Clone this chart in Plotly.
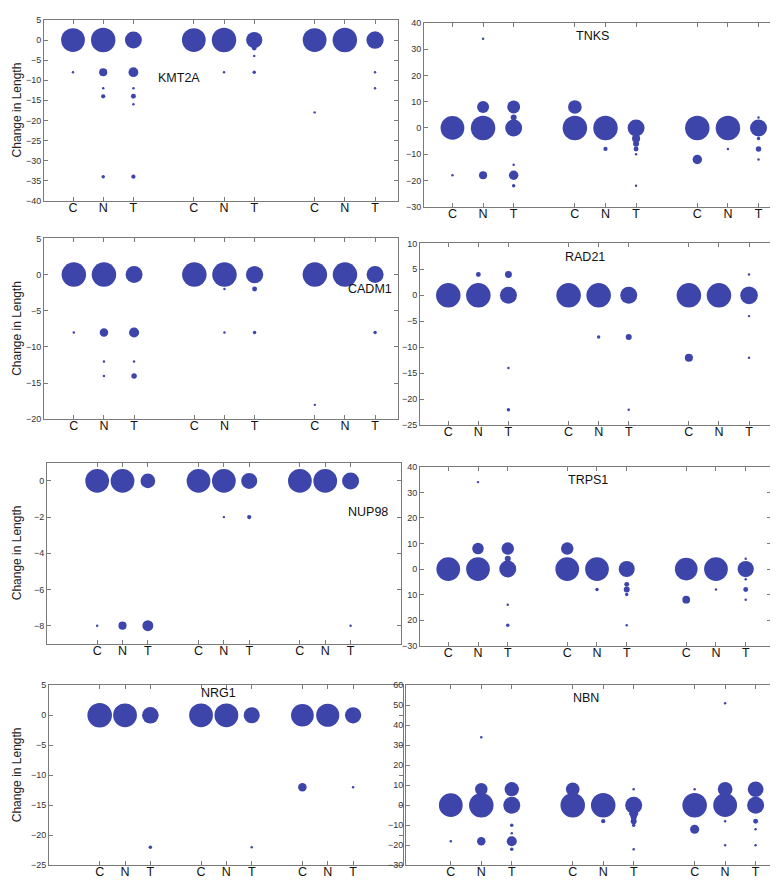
import math
import plotly.graph_objects as go

W, H = 778, 880

SAMPLES = ["C", "N", "T"]
GROUPS = [1, 2, 3]

# records: (group, sample, change in length, count)
KMT2A = [
    (1, "C", 0, 94), (1, "C", -8, 1),
    (1, "N", 0, 100), (1, "N", -8, 11), (1, "N", -12, 1), (1, "N", -14, 3), (1, "N", -34, 2),
    (1, "T", 0, 48), (1, "T", -8, 16), (1, "T", -12, 1), (1, "T", -14, 4), (1, "T", -16, 1), (1, "T", -34, 3),
    (2, "C", 0, 94),
    (2, "N", 0, 100), (2, "N", -8, 1),
    (2, "T", 0, 44), (2, "T", -2, 4), (2, "T", -4, 1), (2, "T", -8, 2),
    (3, "C", 0, 94), (3, "C", -18, 1),
    (3, "N", 0, 100),
    (3, "T", 0, 50), (3, "T", -8, 1), (3, "T", -12, 1),
]

TNKS = [
    (1, "C", 0, 94), (1, "C", -18, 1),
    (1, "N", 0, 100), (1, "N", 8, 24), (1, "N", 34, 1), (1, "N", -18, 11),
    (1, "T", 0, 48), (1, "T", 8, 28), (1, "T", 4, 6), (1, "T", -14, 1), (1, "T", -18, 15), (1, "T", -22, 2),
    (2, "C", 0, 100), (2, "C", 8, 31),
    (2, "N", 0, 100), (2, "N", -4, 2), (2, "N", -8, 3),
    (2, "T", 0, 48), (2, "T", -4, 11), (2, "T", -6, 6), (2, "T", -8, 4), (2, "T", -10, 1), (2, "T", -22, 1),
    (3, "C", 0, 100), (3, "C", -12, 15),
    (3, "N", 0, 100), (3, "N", -8, 1),
    (3, "T", 0, 48), (3, "T", 4, 1), (3, "T", -4, 2), (3, "T", -8, 5), (3, "T", -12, 1),
]

CADM1 = [
    (1, "C", 0, 100), (1, "C", -8, 1),
    (1, "N", 0, 100), (1, "N", -8, 12), (1, "N", -12, 1), (1, "N", -14, 1),
    (1, "T", 0, 48), (1, "T", -8, 17), (1, "T", -12, 1), (1, "T", -14, 5),
    (2, "C", 0, 100),
    (2, "N", 0, 100), (2, "N", -2, 1), (2, "N", -8, 1),
    (2, "T", 0, 50), (2, "T", -2, 4), (2, "T", -8, 2),
    (3, "C", 0, 100), (3, "C", -18, 1),
    (3, "N", 0, 100),
    (3, "T", 0, 48), (3, "T", -8, 2),
]

RAD21 = [
    (1, "C", 0, 100),
    (1, "N", 0, 100), (1, "N", 4, 4),
    (1, "T", 0, 48), (1, "T", 4, 8), (1, "T", -14, 1), (1, "T", -22, 2),
    (2, "C", 0, 100),
    (2, "N", 0, 100), (2, "N", -8, 2),
    (2, "T", 0, 48), (2, "T", -8, 6), (2, "T", -22, 1),
    (3, "C", 0, 100), (3, "C", -12, 11),
    (3, "N", 0, 100),
    (3, "T", 0, 52), (3, "T", 4, 1), (3, "T", -4, 1), (3, "T", -12, 1),
]

NUP98 = [
    (1, "C", 0, 94), (1, "C", -8, 1),
    (1, "N", 0, 94), (1, "N", -8, 11),
    (1, "T", 0, 36), (1, "T", -8, 20),
    (2, "C", 0, 94),
    (2, "N", 0, 94), (2, "N", -2, 1),
    (2, "T", 0, 43), (2, "T", -2, 3),
    (3, "C", 0, 94),
    (3, "N", 0, 94),
    (3, "T", 0, 48), (3, "T", -8, 1),
]

TRPS1 = [
    (1, "C", 0, 94),
    (1, "N", 0, 94), (1, "N", 8, 22), (1, "N", 34, 1),
    (1, "T", 0, 48), (1, "T", 8, 26), (1, "T", 4, 6), (1, "T", -14, 1), (1, "T", -22, 2),
    (2, "C", 0, 94), (2, "C", 8, 26),
    (2, "N", 0, 94), (2, "N", -8, 2),
    (2, "T", 0, 43), (2, "T", -6, 4), (2, "T", -8, 6), (2, "T", -10, 2), (2, "T", -22, 1),
    (3, "C", 0, 86), (3, "C", -12, 10),
    (3, "N", 0, 94), (3, "N", -8, 1),
    (3, "T", 0, 44), (3, "T", 4, 1), (3, "T", -4, 1), (3, "T", -8, 4), (3, "T", -12, 1),
]

NRG1 = [
    (1, "C", 0, 100),
    (1, "N", 0, 94),
    (1, "T", 0, 46), (1, "T", -22, 2),
    (2, "C", 0, 94),
    (2, "N", 0, 94),
    (2, "T", 0, 43), (2, "T", -22, 1),
    (3, "C", 0, 86), (3, "C", -12, 12),
    (3, "N", 0, 89),
    (3, "T", 0, 44), (3, "T", -12, 1),
]

NBN = [
    (1, "C", 0, 94), (1, "C", -18, 1),
    (1, "N", 0, 100), (1, "N", 8, 26), (1, "N", 34, 1), (1, "N", -18, 12),
    (1, "T", 0, 48), (1, "T", 8, 34), (1, "T", -10, 2), (1, "T", -14, 1), (1, "T", -18, 17), (1, "T", -22, 2),
    (2, "C", 0, 100), (2, "C", 8, 31),
    (2, "N", 0, 100), (2, "N", -8, 3),
    (2, "T", 0, 48), (2, "T", 8, 1), (2, "T", -4, 14), (2, "T", -6, 6), (2, "T", -8, 6), (2, "T", -10, 2), (2, "T", -22, 1),
    (3, "C", 0, 100), (3, "C", 8, 1), (3, "C", -12, 14),
    (3, "N", 0, 94), (3, "N", 8, 36), (3, "N", 51, 1), (3, "N", -8, 1), (3, "N", -20, 1),
    (3, "T", 0, 48), (3, "T", 8, 41), (3, "T", -8, 4), (3, "T", -12, 1), (3, "T", -20, 1),
]

# y ticks per gene
KMT2A_YTICKS = [5, 0, -5, -10, -15, -20, -25, -30, -35, -40]
TNKS_YTICKS = [40, 30, 20, 10, 0, -10, -20, -30]
CADM1_YTICKS = [5, 0, -5, -10, -15, -20]
RAD21_YTICKS = [10, 5, 0, -5, -10, -15, -20, -25]
NUP98_YTICKS = [0, -2, -4, -6, -8]
TRPS1_YTICKS = [40, 30, 20, 10, 0, -10, -20, -30]
TRPS1_YLABELS = ["40", "30", "20", "10", "0", "10", "20", "\u221230"]
NRG1_YTICKS = [5, 0, -5, -10, -15, -20, -25]
NBN_YTICKS = [60, 50, 40, 30, 20, 10, 0, -10, -20, -30]

# ---- layout / style (pixels) ----
COLOR = "#3d45ab"
AXCOL = "#7a7a7a"
FONT = "Liberation Sans, Arial, sans-serif"
MAX_COUNT = 100
MAX_DIAM = 24.5
SIZEREF = 2.0 * MAX_COUNT / MAX_DIAM ** 2

SAMPLE_POS = {"C": 1, "N": 2, "T": 3}


def xpos(group, sample):
    return (group - 1) * 4 + SAMPLE_POS[sample]


TICKVALS = [xpos(g, s) for g in GROUPS for s in SAMPLES]
TICKTEXT = [s for g in GROUPS for s in SAMPLES]

# gene, data, yticks, ylabels, yrange, xrange, box(l,t,r,b px), label(x,y px), left column
panels = [
    ("KMT2A", KMT2A, KMT2A_YTICKS, None, [-40, 5], [0.04, 11.76], (36, 7, 390, 190), (171, 66), True),
    ("TNKS", TNKS, TNKS_YTICKS, None, [-30, 40], [0.07, 11.8], (416, 10, 775, 196), (584, 23), False),
    ("CADM1", CADM1, CADM1_YTICKS, None, [-20, 5], [0.01, 11.76], (36, 228, 390, 411), (362, 279), True),
    ("RAD21", RAD21, RAD21_YTICKS, None, [-25, 10], [0.06, 11.83], (412, 233, 766, 417), (577, 247), False),
    ("NUP98", NUP98, NUP98_YTICKS, None, [-9, 1], [-0.98, 12.99], (39, 455, 393, 638), (360, 505), True),
    ("TRPS1", TRPS1, TRPS1_YTICKS, TRPS1_YLABELS, [-30, 40], [0.05, 11.85], (412, 459, 763, 640), (580, 472), False),
    ("NRG1", NRG1, NRG1_YTICKS, None, [-25, 5], [-1.0, 12.97], (41, 680, 395, 862), (210, 688), True),
    ("NBN", NBN, NBN_YTICKS, None, [-30, 60], [-0.47, 11.8], (398, 680, 772, 862), (578, 693), False),
]

fig = go.Figure()
annotations = []
layout = {}

for i, (gene, data, yt, yl, yr, xr, box, lab, left) in enumerate(panels, start=1):
    xs = [xpos(g, s) for g, s, _, _ in data]
    ys = [v for _, _, v, _ in data]
    ns = [n for _, _, _, n in data]
    order = sorted(range(len(ns)), key=lambda k: -ns[k])
    fig.add_trace(go.Scatter(
        x=[xs[k] for k in order], y=[ys[k] for k in order],
        mode="markers",
        marker=dict(size=[ns[k] for k in order], sizemode="area", sizeref=SIZEREF,
                    color=COLOR, line=dict(width=0), opacity=1),
        xaxis=f"x{i}", yaxis=f"y{i}", showlegend=False, hoverinfo="skip",
    ))
    l, t, r, b = box
    common = dict(showline=True, linecolor=AXCOL, linewidth=1, mirror="ticks",
                  ticks="inside", ticklen=4, tickcolor=AXCOL, tickwidth=1,
                  showgrid=False, zeroline=False, fixedrange=True)
    layout[f"xaxis{i}"] = dict(domain=[l / W, r / W], range=xr, anchor=f"y{i}",
                               tickmode="array", tickvals=TICKVALS, ticktext=TICKTEXT,
                               ticklabelstandoff=-5,
                               tickfont=dict(size=12.5, color="#111", family=FONT),
                               **common)
    yax = dict(domain=[1 - b / H, 1 - t / H], range=yr, anchor=f"x{i}",
               tickmode="array", tickvals=yt,
               tickfont=dict(size=9, color="#333", family=FONT),
               **common)
    if yl is not None:
        yax["ticktext"] = yl
    layout[f"yaxis{i}"] = yax

    annotations.append(dict(text=gene, x=lab[0] / W, y=1 - lab[1] / H, xref="paper", yref="paper",
                            showarrow=False, xanchor="center", yanchor="middle",
                            font=dict(size=12.5, color="#111", family=FONT)))
    if left:
        annotations.append(dict(text="Change in Length", x=9 / W, y=1 - (t + b) / 2 / H,
                                xref="paper", yref="paper", showarrow=False, textangle=-90,
                                xanchor="center", yanchor="middle",
                                font=dict(size=12, color="#222", family=FONT)))

fig.update_layout(width=W, height=H, margin=dict(l=0, r=0, t=0, b=0),
                  paper_bgcolor="white", plot_bgcolor="white",
                  annotations=annotations, **layout)

fig.write_html("out.html")
